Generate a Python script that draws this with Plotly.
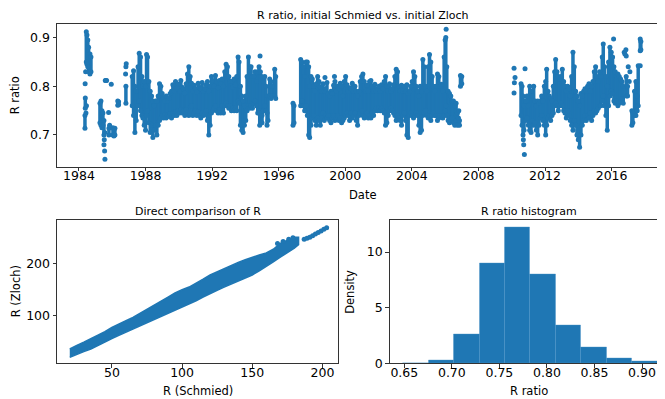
import plotly.graph_objects as go

# ---------------- data ----------------
# Top panel: vertical runs of daily points (decimal year, low ratio, high ratio)
ts_year = [1984.36, 1984.38, 1984.44, 1984.48, 1984.53, 1984.58, 1984.66, 1984.72,
           1985.26, 1985.32, 1985.38, 1985.44, 1985.50, 1985.80, 1986.04, 1986.10, 1986.16, 1986.33, 1986.38,
           1986.82, 1987.20, 1987.28, 1987.36, 1987.44, 1987.55, 1987.62, 1987.70, 1987.78, 1987.84,
           1987.92, 1988.00, 1988.06, 1988.12, 1988.20, 1988.28, 1988.36, 1988.44, 1988.52, 1988.60,
           1988.68, 1988.76, 1988.84, 1988.92,
           1989.00, 1989.08, 1989.16, 1989.24, 1989.32, 1989.40, 1989.48, 1989.56, 1989.64, 1989.72, 1989.80, 1989.88, 1989.96,
           1990.04, 1990.12, 1990.20, 1990.28, 1990.36, 1990.44, 1990.52, 1990.60, 1990.68, 1990.76, 1990.84, 1990.92,
           1991.00, 1991.08, 1991.16, 1991.24, 1991.32, 1991.40, 1991.48, 1991.56, 1991.64, 1991.72, 1991.80, 1991.88, 1991.96,
           1992.04, 1992.12, 1992.20, 1992.28, 1992.36, 1992.44, 1992.52, 1992.60, 1992.68, 1992.76, 1992.84, 1992.92, 1993.00, 1993.08,
           1993.16, 1993.24, 1993.32, 1993.40, 1993.48, 1993.56, 1993.62, 1993.70, 1993.78, 1993.86, 1993.94, 1994.02,
           1994.10, 1994.18, 1994.26, 1994.34, 1994.42, 1994.50, 1994.58, 1994.66, 1994.74, 1994.82, 1994.90, 1994.98,
           1994.86, 1995.00,
           1995.08, 1995.16, 1995.24, 1995.30, 1995.36, 1995.46, 1995.54, 1995.62, 1995.76, 1995.82,
           1996.86, 1996.92,
           1997.32, 1997.40, 1997.48, 1997.56, 1997.64, 1997.72, 1997.80, 1997.86, 1997.94,
           1998.02, 1998.10, 1998.18, 1998.26, 1998.34, 1998.42, 1998.50, 1998.58, 1998.66, 1998.74, 1998.82, 1998.90, 1998.98,
           1999.06, 1999.14, 1999.22, 1999.30, 1999.38, 1999.46, 1999.54, 1999.62, 1999.70, 1999.78, 1999.86, 1999.94,
           2000.02, 2000.10, 2000.18, 2000.26, 2000.34, 2000.42, 2000.50, 2000.58, 2000.66, 2000.74, 2000.82, 2000.90, 2000.98,
           2001.06, 2001.14, 2001.22, 2001.30, 2001.38, 2001.46, 2001.54, 2001.62, 2001.70, 2001.78, 2001.86, 2001.94,
           2002.02, 2002.10, 2002.18, 2002.26, 2002.34, 2002.42, 2002.50, 2002.58, 2002.66, 2002.74, 2002.82, 2002.90, 2002.98,
           2003.06, 2003.14, 2003.22, 2003.30, 2003.38, 2003.46, 2003.54, 2003.62, 2003.70, 2003.78, 2003.86, 2003.94,
           2004.02, 2004.10, 2004.18, 2004.26, 2004.34, 2004.42, 2004.50, 2004.58, 2004.66, 2004.74, 2004.82, 2004.90,
           2004.98, 2005.06, 2005.14, 2005.22, 2005.30, 2005.38, 2005.46, 2005.54, 2005.62, 2005.70, 2005.78, 2005.86,
           2005.94, 2006.00, 2006.04, 2006.10, 2006.18, 2006.26, 2006.34, 2006.42,
           2006.50, 2006.58, 2006.66, 2006.74, 2006.86, 2006.92, 2007.00,
           2010.56, 2010.62, 2010.68, 2010.74,
           2010.84, 2010.92, 2011.00, 2011.08, 2011.16, 2011.24, 2011.32, 2011.40, 2011.48, 2011.56, 2011.64, 2011.72,
           2011.80, 2011.88, 2011.96, 2012.04, 2012.10, 2012.18, 2012.26, 2012.34, 2012.42, 2012.50,
           2012.58, 2012.64, 2012.72, 2012.80, 2012.88, 2012.96, 2013.04, 2013.12, 2013.20, 2013.28, 2013.36, 2013.44,
           2013.52, 2013.60, 2013.68, 2013.76, 2013.84, 2013.92, 2014.00, 2014.08, 2014.16, 2014.24, 2014.32, 2014.40, 2014.48,
           2014.56, 2014.64, 2014.72, 2014.80, 2014.88, 2014.96, 2015.04, 2015.12, 2015.20, 2015.28, 2015.36, 2015.44,
           2015.50, 2015.58, 2015.66, 2015.74, 2015.82, 2015.90, 2015.98, 2016.06, 2016.14, 2016.22, 2016.30, 2016.38,
           2016.46, 2016.54, 2016.62, 2016.70,
           2016.88, 2016.96, 2017.22, 2017.28, 2017.38, 2017.46, 2017.54, 2017.60, 2017.72, 2017.76]
ts_low = [0.714, 0.755, 0.850, 0.845, 0.840, 0.830, 0.825, 0.830,
          0.725, 0.720, 0.715, 0.720, 0.700, 0.700, 0.700, 0.698, 0.700, 0.761, 0.762,
          0.765, 0.760, 0.740, 0.705, 0.730, 0.760, 0.770, 0.750, 0.740, 0.735,
          0.720, 0.710, 0.740, 0.750, 0.725, 0.705, 0.720, 0.695, 0.710, 0.720,
          0.700, 0.720, 0.730, 0.735,
          0.740, 0.735, 0.742, 0.735, 0.740, 0.738, 0.744, 0.735, 0.745, 0.740, 0.748, 0.740, 0.750,
          0.745, 0.752, 0.745, 0.750, 0.740, 0.752, 0.745, 0.740, 0.745, 0.760, 0.740, 0.745,
          0.750, 0.740, 0.748, 0.740, 0.735, 0.745, 0.740, 0.742, 0.750, 0.730, 0.700, 0.720, 0.745,
          0.750, 0.755, 0.760, 0.750, 0.745, 0.752, 0.745, 0.760, 0.745, 0.760, 0.765, 0.760, 0.755, 0.760,
          0.750, 0.755, 0.750, 0.755, 0.750, 0.770, 0.765, 0.720, 0.710, 0.705, 0.720, 0.730,
          0.750, 0.760, 0.755, 0.760, 0.755, 0.765, 0.770, 0.760, 0.745, 0.750, 0.740, 0.745,
          0.720, 0.725,
          0.750, 0.760, 0.750, 0.720, 0.730, 0.780, 0.775, 0.780, 0.780, 0.775,
          0.720, 0.725,
          0.760, 0.770, 0.760, 0.750, 0.760, 0.740, 0.700, 0.695, 0.720,
          0.735, 0.740, 0.730, 0.720, 0.735, 0.730, 0.720, 0.735, 0.745, 0.730, 0.740, 0.735, 0.740,
          0.730, 0.725, 0.735, 0.740, 0.730, 0.735, 0.740, 0.730, 0.735, 0.725, 0.730, 0.735,
          0.740, 0.745, 0.740, 0.730, 0.745, 0.735, 0.740, 0.745, 0.730, 0.720, 0.740, 0.745, 0.750,
          0.740, 0.735, 0.740, 0.745, 0.735, 0.740, 0.735, 0.745, 0.740, 0.750, 0.755, 0.750,
          0.755, 0.750, 0.755, 0.750, 0.745, 0.720, 0.725, 0.740, 0.750, 0.755, 0.750, 0.745, 0.740,
          0.730, 0.740, 0.735, 0.730, 0.720, 0.740, 0.745, 0.730, 0.700, 0.695, 0.740, 0.745,
          0.740, 0.735, 0.740, 0.745, 0.740, 0.720, 0.705, 0.710, 0.740, 0.745, 0.750, 0.740,
          0.735, 0.740, 0.730, 0.740, 0.745, 0.740, 0.740, 0.730, 0.735, 0.740, 0.740, 0.735,
          0.740, 0.750, 0.760, 0.740, 0.730, 0.725, 0.730, 0.735,
          0.725, 0.720, 0.730, 0.720, 0.720, 0.800, 0.805,
          0.740, 0.720, 0.700, 0.710,
          0.730, 0.735, 0.720, 0.710, 0.705, 0.730, 0.720, 0.725, 0.710, 0.700, 0.720, 0.735,
          0.740, 0.730, 0.720, 0.700, 0.720, 0.735, 0.740, 0.730, 0.740, 0.745,
          0.760, 0.765, 0.760, 0.750, 0.760, 0.765, 0.760, 0.750, 0.745, 0.735, 0.750, 0.740,
          0.730, 0.720, 0.710, 0.730, 0.720, 0.700, 0.690, 0.675, 0.700, 0.720, 0.730, 0.740, 0.730,
          0.740, 0.735, 0.745, 0.730, 0.740, 0.750, 0.745, 0.750, 0.755, 0.760, 0.760, 0.770,
          0.780, 0.760, 0.740, 0.710, 0.760, 0.780, 0.790, 0.785, 0.770, 0.765, 0.770, 0.760,
          0.765, 0.770, 0.775, 0.765,
          0.780, 0.780, 0.720, 0.725, 0.740, 0.740, 0.750, 0.760, 0.873, 0.875]
ts_high = [0.740, 0.776, 0.912, 0.905, 0.895, 0.880, 0.866, 0.860,
           0.765, 0.770, 0.750, 0.745, 0.730, 0.714, 0.715, 0.712, 0.714, 0.770, 0.768,
           0.800, 0.820, 0.832, 0.800, 0.790, 0.840, 0.868, 0.860, 0.820, 0.800,
           0.810, 0.800, 0.865, 0.860, 0.810, 0.790, 0.780, 0.770, 0.760, 0.770,
           0.770, 0.780, 0.805, 0.800,
           0.785, 0.775, 0.770, 0.780, 0.770, 0.775, 0.785, 0.790, 0.803, 0.790, 0.810, 0.796, 0.804,
           0.790, 0.812, 0.798, 0.795, 0.786, 0.805, 0.825, 0.840, 0.820, 0.806, 0.790, 0.802,
           0.795, 0.788, 0.806, 0.798, 0.795, 0.808, 0.790, 0.795, 0.803, 0.810, 0.790, 0.800, 0.820,
           0.812, 0.800, 0.822, 0.810, 0.797, 0.812, 0.805, 0.815, 0.800, 0.830, 0.845, 0.840, 0.820, 0.810,
           0.810, 0.798, 0.815, 0.802, 0.820, 0.860, 0.850, 0.800, 0.780, 0.770, 0.760, 0.780,
           0.820, 0.860, 0.840, 0.840, 0.820, 0.820, 0.830, 0.810, 0.830, 0.840, 0.830, 0.820,
           0.745, 0.740,
           0.810, 0.820, 0.800, 0.745, 0.780, 0.815, 0.810, 0.800, 0.835, 0.820,
           0.765, 0.760,
           0.855, 0.850, 0.840, 0.820, 0.850, 0.850, 0.840, 0.800, 0.820,
           0.815, 0.800, 0.790, 0.805, 0.820, 0.810, 0.798, 0.790, 0.805, 0.790, 0.795, 0.808, 0.785,
           0.780, 0.790, 0.785, 0.802, 0.810, 0.790, 0.800, 0.795, 0.806, 0.800, 0.780, 0.810,
           0.820, 0.803, 0.790, 0.797, 0.795, 0.806, 0.790, 0.800, 0.790, 0.780, 0.790, 0.810, 0.820,
           0.825, 0.810, 0.790, 0.802, 0.790, 0.810, 0.812, 0.800, 0.790, 0.804, 0.790, 0.795,
           0.800, 0.790, 0.803, 0.795, 0.810, 0.820, 0.800, 0.790, 0.805, 0.790, 0.795, 0.803, 0.820,
           0.835, 0.830, 0.800, 0.790, 0.802, 0.790, 0.800, 0.790, 0.803, 0.785, 0.790, 0.800,
           0.810, 0.830, 0.820, 0.800, 0.790, 0.780, 0.800, 0.790, 0.855, 0.840, 0.800, 0.790,
           0.840, 0.865, 0.850, 0.820, 0.800, 0.790, 0.800, 0.825, 0.820, 0.800, 0.804, 0.790,
           0.860, 0.895, 0.900, 0.840, 0.790, 0.785, 0.780, 0.770,
           0.770, 0.760, 0.765, 0.745, 0.730, 0.822, 0.820,
           0.805, 0.800, 0.780, 0.760,
           0.770, 0.780, 0.760, 0.800, 0.790, 0.780, 0.800, 0.770, 0.760, 0.770, 0.765, 0.770,
           0.780, 0.770, 0.800, 0.810, 0.835, 0.790, 0.780, 0.775, 0.770, 0.800,
           0.830, 0.855, 0.830, 0.820, 0.815, 0.820, 0.835, 0.810, 0.800, 0.790, 0.800, 0.795,
           0.780, 0.820, 0.870, 0.840, 0.790, 0.780, 0.770, 0.760, 0.785, 0.780, 0.790, 0.795, 0.790,
           0.800, 0.805, 0.790, 0.800, 0.810, 0.830, 0.840, 0.820, 0.810, 0.830, 0.820, 0.860,
           0.887, 0.840, 0.820, 0.800, 0.850, 0.880, 0.870, 0.860, 0.840, 0.830, 0.820, 0.825,
           0.820, 0.815, 0.810, 0.800,
           0.820, 0.800, 0.750, 0.745, 0.790, 0.810, 0.780, 0.842, 0.897, 0.892]
# Top panel: isolated points (decimal year, ratio)
pt_year = [1984.37, 1984.40, 1984.45, 1984.42, 1985.52, 1985.50, 1985.54, 1985.56, 1985.55,
           1985.58, 1985.62, 1985.66, 1985.78, 1985.84, 1985.94, 1986.82, 1986.84, 1986.80,
           1994.88, 1998.78, 1999.35, 2006.06, 2006.80, 2006.82,
           2010.14, 2010.20, 2010.16, 2010.14, 2010.70, 2010.72, 2010.76, 2010.80,
           2016.12, 2016.76, 2016.80, 2016.86, 2016.88, 2017.00, 2017.06, 2017.10, 2017.72]
pt_ratio = [0.805, 0.830, 0.760, 0.745, 0.690, 0.680, 0.667, 0.650, 0.705,
            0.812, 0.812, 0.812, 0.746, 0.720, 0.804, 0.840, 0.846, 0.825,
            0.862, 0.818, 0.820, 0.917, 0.735, 0.750,
            0.837, 0.818, 0.807, 0.786, 0.690, 0.680, 0.660, 0.836,
            0.897, 0.870, 0.866, 0.875, 0.862, 0.840, 0.810, 0.830, 0.842]

# Bottom left: extent of the R (Zloch) vs R (Schmied) point cloud
cmp_schmied = [20, 25, 30, 35, 40, 45, 50, 55, 60, 65, 70, 75, 80, 85, 90, 95, 100, 105, 110,
               115, 120, 125, 130, 135, 140, 145, 150, 155, 160, 165, 170, 175, 180, 183]
cmp_zloch_low = [21, 27, 32, 37, 44, 50, 57, 63, 69, 75, 81, 87, 92, 98, 105, 111, 117, 123, 129,
                 136, 143, 149, 155, 161, 166, 172, 178, 186, 194, 203, 212, 220, 229, 236]
cmp_zloch_high = [37, 44, 50, 56, 63, 70, 78, 85, 91, 97, 104, 112, 120, 128, 136, 144, 150, 155, 162,
                  170, 178, 184, 190, 196, 202, 207, 212, 216, 220, 227, 238, 244, 250, 250]
cmp_pt_schmied = [168, 172, 176, 179, 187, 189, 191, 193, 195, 197, 199, 201, 203]
cmp_pt_zloch = [238, 242, 246, 249, 246, 248, 250, 253, 256, 259, 262, 265, 268]

# Bottom right: histogram of the ratio (density)
hist_edges = [0.6485, 0.6753, 0.7020, 0.7288, 0.7555, 0.7823, 0.8090, 0.8358, 0.8625, 0.8893, 0.9160]
hist_density = [0.03, 0.32, 2.59, 8.97, 12.24, 7.97, 3.47, 1.41, 0.50, 0.20]

# ---------------- figure ----------------
W, H = 665, 399
BLUE = "#1f77b4"
FONT = "DejaVu Sans"

def seg(xs, lo, hi):
    X, Y = [], []
    for x, a, b in zip(xs, lo, hi):
        X += [x, x, None]
        Y += [a, b, None]
    return X, Y

fig = go.Figure()

sx, sy = seg(ts_year, ts_low, ts_high)
fig.add_trace(go.Scatter(x=sx, y=sy, mode="lines+markers", line=dict(color=BLUE, width=3.5),
                         marker=dict(color=BLUE, size=5), xaxis="x", yaxis="y", showlegend=False))
fig.add_trace(go.Scatter(x=pt_year, y=pt_ratio, mode="markers", marker=dict(color=BLUE, size=5),
                         xaxis="x", yaxis="y", showlegend=False))

band_x = cmp_schmied + cmp_schmied[::-1]
band_y = cmp_zloch_low + cmp_zloch_high[::-1]
fig.add_trace(go.Scatter(x=band_x, y=band_y, mode="lines", fill="toself", fillcolor=BLUE,
                         line=dict(color=BLUE, width=1.5), xaxis="x2", yaxis="y2",
                         showlegend=False))
fig.add_trace(go.Scatter(x=cmp_pt_schmied, y=cmp_pt_zloch, mode="markers", marker=dict(color=BLUE, size=5),
                         xaxis="x2", yaxis="y2", showlegend=False))

centers = [(a + b) / 2 for a, b in zip(hist_edges[:-1], hist_edges[1:])]
widths = [b - a for a, b in zip(hist_edges[:-1], hist_edges[1:])]
fig.add_trace(go.Bar(x=centers, y=hist_density, width=widths,
                     marker=dict(color=BLUE, line=dict(width=0.4, color="#4a93c8")),
                     xaxis="x3", yaxis="y3", showlegend=False))

def px_x(p):
    return p / W

def px_y(p):
    return 1 - p / H

ax_common = dict(showline=True, mirror=True, linecolor="#333333", linewidth=1, ticks="outside",
                 ticklen=3.5, tickwidth=0.8, tickcolor="#333333", showgrid=False, zeroline=False,
                 tickfont=dict(family=FONT, size=12.5, color="black"))
x_common = dict(ticklabelstandoff=-6, **ax_common)

fig.update_layout(
    width=W, height=H, margin=dict(l=0, r=0, t=0, b=0),
    paper_bgcolor="white", plot_bgcolor="white", bargap=0,
    xaxis=dict(domain=[px_x(49), px_x(661)], range=[1982.68, 2019.45], anchor="y",
               tickvals=[1984, 1988, 1992, 1996, 2000, 2004, 2008, 2012, 2016], **x_common),
    yaxis=dict(domain=[px_y(161.7), px_y(16)], range=[0.6346, 0.9284], anchor="x",
               tickvals=[0.7, 0.8, 0.9], tickformat=".1f", **ax_common),
    xaxis2=dict(domain=[px_x(49), px_x(330)], range=[10.9, 211.1], anchor="y2",
                tickvals=[50, 100, 150, 200], **x_common),
    yaxis2=dict(domain=[px_y(361.7), px_y(216)], range=[9.6, 282.4], anchor="x2",
                tickvals=[100, 200], **ax_common),
    xaxis3=dict(domain=[px_x(381.7), px_x(661)], range=[0.6346, 0.9284], anchor="y3",
                tickvals=[0.65, 0.70, 0.75, 0.80, 0.85, 0.90], tickformat=".2f", **x_common),
    yaxis3=dict(domain=[px_y(361.7), px_y(216)], range=[0, 12.86], anchor="x3",
                tickvals=[0, 5, 10], **ax_common),
)

def label(text, x, y, size=11.5, angle=0):
    fig.add_annotation(text=text, x=px_x(x), y=px_y(y), xref="paper", yref="paper",
                       xanchor="center", yanchor="middle", showarrow=False, textangle=angle,
                       font=dict(family=FONT, size=size, color="black"))

label("R ratio, initial Schmied vs. initial Zloch", 355, 7.5, size=11)
label("Direct comparison of R", 189.5, 207, size=11)
label("R ratio histogram", 521.3, 207, size=11)
label("Date", 355, 190)
label("R (Schmied)", 189.5, 390)
label("R ratio", 521.3, 390)
label("R ratio", 7, 88.9, angle=-90)
label("R (Zloch)", 7.5, 288.9, angle=-90)
label("Density", 342, 288.9, angle=-90)

fig.write_html("out.html")
